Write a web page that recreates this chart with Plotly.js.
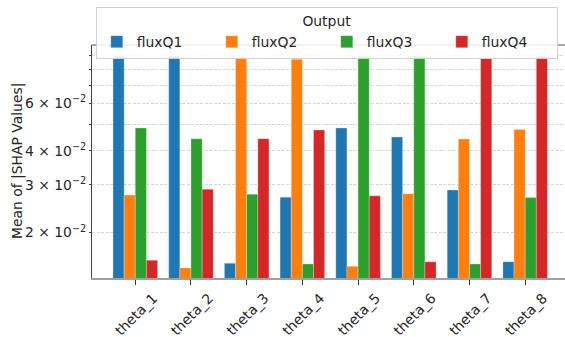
<!DOCTYPE html>
<html>
<head>
<meta charset="utf-8">
<script src="https://cdn.plot.ly/plotly-3.0.1.min.js"></script>
<style>html,body{margin:0;padding:0;background:#fff;}#chart{width:565px;height:337px;}</style>
</head>
<body>
<div id="chart"></div>
<script>
const categories = ["theta_1","theta_2","theta_3","theta_4","theta_5","theta_6","theta_7","theta_8"];
const fluxQ1 = [0.0894, 0.0894, 0.0154, 0.0270, 0.0486, 0.0450, 0.0287, 0.0156];
const fluxQ2 = [0.0275, 0.0148, 0.0879, 0.0872, 0.0150, 0.0278, 0.0443, 0.0480];
const fluxQ3 = [0.0486, 0.0444, 0.0277, 0.0153, 0.0895, 0.0895, 0.0153, 0.0269];
const fluxQ4 = [0.0158, 0.0289, 0.0444, 0.0478, 0.0273, 0.0156, 0.0876, 0.0891];
const seriesNames = ["fluxQ1","fluxQ2","fluxQ3","fluxQ4"];
const yTickVals = [0.02, 0.03, 0.04, 0.05, 0.06, 0.07, 0.08, 0.09];
const yTickText = ["2 × 10<sup>−2</sup>","3 × 10<sup>−2</sup>","4 × 10<sup>−2</sup>","","6 × 10<sup>−2</sup>","","",""];

const colors = ["#1f77b4","#ff7f0e","#2ca02c","#d62728"];
const allSeries = [fluxQ1, fluxQ2, fluxQ3, fluxQ4];
const FONT = "DejaVu Sans, sans-serif";
const FS = 13.9;

const data = allSeries.map((vals, i) => ({
  type: "bar",
  name: seriesNames[i],
  x: categories,
  y: vals,
  marker: {color: colors[i], line: {color: "rgba(255,255,255,0.45)", width: 0.6}},
  hoverinfo: "none"
}));

const layout = {
  width: 565, height: 337,
  margin: {l: 92, r: 0, t: 45, b: 59},
  paper_bgcolor: "#fff", plot_bgcolor: "#fff",
  font: {family: FONT, size: FS, color: "#262626"},
  barmode: "group",
  bargap: 0.2,
  bargroupgap: 0,
  showlegend: true,
  legend: {
    orientation: "h",
    x: 0.008, xanchor: "left",
    y: 1.163, yanchor: "top",
    bgcolor: "rgba(255,255,255,0.85)",
    bordercolor: "#d0d0d0", borderwidth: 1,
    font: {family: FONT, size: FS, color: "#262626"},
    title: {text: "Output", side: "top center", font: {family: FONT, size: FS, color: "#262626"}},
    entrywidth: 70, entrywidthmode: "pixels",
    itemwidth: 30,
    traceorder: "normal"
  },
  xaxis: {
    type: "category",
    range: [-0.777, 7.715],
    showgrid: false,
    showline: true, linecolor: "#a0a0a0", linewidth: 1.5,
    ticks: "outside", ticklen: 5, tickcolor: "#333", tickwidth: 1,
    tickangle: -45,
    ticklabelshift: 18,
    tickfont: {family: FONT, size: FS, color: "#262626"},
    zeroline: false
  },
  yaxis: {
    type: "log",
    range: [-1.867, -1.007],
    tickmode: "array",
    tickvals: yTickVals,
    ticktext: yTickText,
    showgrid: true, gridcolor: "#cccccc", gridwidth: 0.8, griddash: "3px,1.5px",
    showline: true, linecolor: "#444", linewidth: 1,
    ticks: "outside", ticklen: 2, tickcolor: "#444",
    tickfont: {family: FONT, size: FS, color: "#262626"},
    zeroline: false
  },
  annotations: [
    {text: "Mean of |SHAP Values|", xref: "paper", yref: "paper", x: -0.1575, y: 0.5,
     xanchor: "center", yanchor: "middle", textangle: -90, showarrow: false,
     font: {family: FONT, size: FS, color: "#262626"}}
  ],
  shapes: [
    {type: "line", xref: "paper", yref: "paper", x0: 0, x1: 1, y0: 1, y1: 1, line: {color: "#555", width: 1}, layer: "below"}
  ]
};

Plotly.newPlot("chart", data, layout, {staticPlot: true, displayModeBar: false});
</script>
</body>
</html>
